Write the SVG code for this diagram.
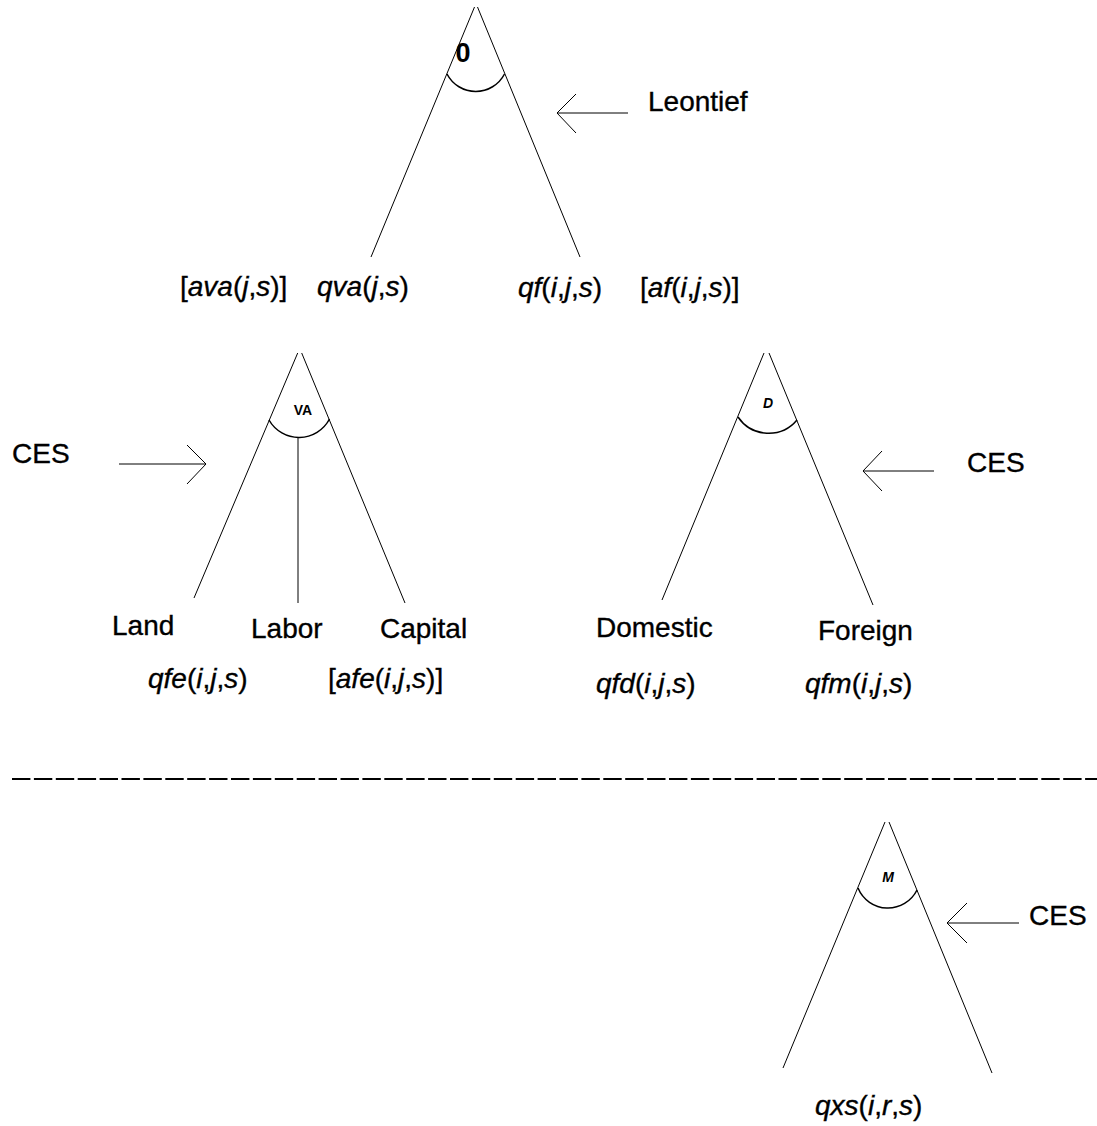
<svg xmlns="http://www.w3.org/2000/svg" width="1097" height="1126" viewBox="0 0 1097 1126">
<style>
  .t { font-family: "Liberation Sans", Arial, sans-serif; font-size: 28px; fill: #000; stroke: #000; stroke-width: 0.35; }
  .i { font-style: italic; }
  .nl { font-family: "Liberation Sans", Arial, sans-serif; font-weight: bold; fill: #000; text-anchor: middle; }
  .ln { stroke: #000; stroke-width: 1; fill: none; }
  .arc { stroke: #000; stroke-width: 1.5; fill: none; }
  .arr { stroke: #000; stroke-width: 1; fill: none; }
</style>
<rect width="1097" height="1126" fill="#fff"/>

<g id="connectors">
  <!-- top tree branches -->
  <line class="ln" x1="474.5" y1="7" x2="371" y2="257"/>
  <line class="ln" x1="477.5" y1="7" x2="580" y2="257"/>
  <!-- VA tree branches -->
  <line class="ln" x1="297.7" y1="353" x2="194" y2="598"/>
  <line class="ln" x1="301.7" y1="353" x2="405" y2="603"/>
  <line class="ln" x1="298" y1="437" x2="298" y2="603"/>
  <!-- D tree branches -->
  <line class="ln" x1="764" y1="353" x2="662" y2="600"/>
  <line class="ln" x1="769" y1="353" x2="873" y2="605"/>
  <!-- M tree branches -->
  <line class="ln" x1="885" y1="822" x2="783" y2="1068"/>
  <line class="ln" x1="889" y1="822" x2="992" y2="1073"/>
  <!-- annotation arrows -->
  <g id="arrow-leontief">
    <line class="arr" x1="628" y1="113" x2="557" y2="113"/>
    <polyline class="arr" points="576,94 557,113 576,133"/>
  </g>
  <g id="arrow-ces-va">
    <line class="arr" x1="119" y1="464" x2="206" y2="464"/>
    <polyline class="arr" points="187,445 206,464 187,484"/>
  </g>
  <g id="arrow-ces-d">
    <line class="arr" x1="934" y1="471" x2="863" y2="471"/>
    <polyline class="arr" points="882,451 863,471 882,491"/>
  </g>
  <g id="arrow-ces-m">
    <line class="arr" x1="1019" y1="923" x2="947" y2="923"/>
    <polyline class="arr" points="967,903 947,923 967,943"/>
  </g>
</g>

<g id="node-top">
  <path class="arc" d="M447,74 A32.4,32.4 0 0 0 504.5,74"/>
  <text class="nl" x="463" y="62" font-size="27">0</text>
</g>
<g id="label-leontief"><text class="t" x="648" y="111">Leontief</text></g>
<g id="label-ava"><text class="t" x="180" y="296">[<tspan class="i">ava</tspan>(<tspan class="i">j</tspan>,<tspan class="i">s</tspan>)]</text></g>
<g id="label-qva"><text class="t" x="317" y="296"><tspan class="i">qva</tspan>(<tspan class="i">j</tspan>,<tspan class="i">s</tspan>)</text></g>
<g id="label-qf"><text class="t" x="518" y="297"><tspan class="i">qf</tspan>(<tspan class="i">i</tspan>,<tspan class="i">j</tspan>,<tspan class="i">s</tspan>)</text></g>
<g id="label-af"><text class="t" x="640" y="297">[<tspan class="i">af</tspan>(<tspan class="i">i</tspan>,<tspan class="i">j</tspan>,<tspan class="i">s</tspan>)]</text></g>

<g id="node-va">
  <path class="arc" d="M269,420 A34.5,34.5 0 0 0 329.5,419"/>
  <text class="nl" x="303" y="415" font-size="14">VA</text>
</g>
<g id="label-ces-va"><text class="t" x="12" y="463">CES</text></g>
<g id="label-land"><text class="t" x="112" y="635">Land</text></g>
<g id="label-labor"><text class="t" x="251" y="638">Labor</text></g>
<g id="label-capital"><text class="t" x="380" y="638">Capital</text></g>
<g id="label-qfe"><text class="t" x="148" y="688"><tspan class="i">qfe</tspan>(<tspan class="i">i</tspan>,<tspan class="i">j</tspan>,<tspan class="i">s</tspan>)</text></g>
<g id="label-afe"><text class="t" x="328" y="688">[<tspan class="i">afe</tspan>(<tspan class="i">i</tspan>,<tspan class="i">j</tspan>,<tspan class="i">s</tspan>)]</text></g>

<g id="node-d">
  <path class="arc" d="M738,417 A37,37 0 0 0 797,420"/>
  <text class="nl i" x="768" y="408" font-size="14">D</text>
</g>
<g id="label-ces-d"><text class="t" x="967" y="472">CES</text></g>
<g id="label-domestic"><text class="t" x="596" y="637">Domestic</text></g>
<g id="label-foreign"><text class="t" x="818" y="640">Foreign</text></g>
<g id="label-qfd"><text class="t" x="596" y="693"><tspan class="i">qfd</tspan>(<tspan class="i">i</tspan>,<tspan class="i">j</tspan>,<tspan class="i">s</tspan>)</text></g>
<g id="label-qfm"><text class="t" x="805" y="693"><tspan class="i">qfm</tspan>(<tspan class="i">i</tspan>,<tspan class="i">j</tspan>,<tspan class="i">s</tspan>)</text></g>

<g id="separator">
  <line x1="12" y1="779" x2="1097" y2="779" stroke="#000" stroke-width="2" stroke-dasharray="18.4 3.5"/>
</g>

<g id="node-m">
  <path class="arc" d="M858,888 A32.4,32.4 0 0 0 917,890"/>
  <text class="nl i" x="888" y="882" font-size="14">M</text>
</g>
<g id="label-ces-m"><text class="t" x="1029" y="925">CES</text></g>
<g id="label-qxs"><text class="t" x="815" y="1115"><tspan class="i">qxs</tspan>(<tspan class="i">i</tspan>,<tspan class="i">r</tspan>,<tspan class="i">s</tspan>)</text></g>
</svg>
